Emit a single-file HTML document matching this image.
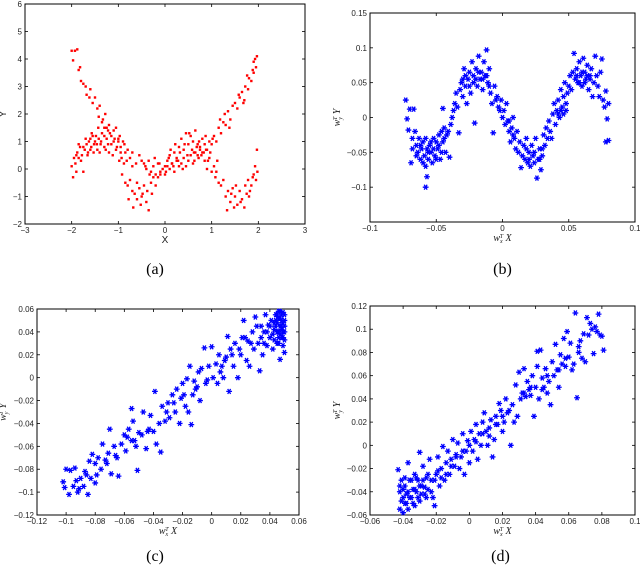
<!DOCTYPE html>
<html><head><meta charset="utf-8"><style>
html,body{margin:0;padding:0;background:#fff;}
svg{display:block;font-family:"Liberation Sans",sans-serif;}
</style></head><body>
<svg id="fig" width="640" height="570" viewBox="0 0 640 570"></svg>
<script>
const aX=[-2.0,-1.97,-1.93,-1.88,-1.85,-1.82,-1.8,-1.75,-1.7,-1.68,-1.62,-1.6,-1.55,-1.5,-1.45,-1.42,-1.4,-1.35,-1.3,-1.28,-1.22,-1.2,-1.15,-1.1,-1.05,-1.0,-0.95,-0.9,-0.85,-0.8,-0.75,-0.7,-0.62,-0.55,-0.5,-0.45,-0.4,-0.35,-0.3,-0.25,-0.2,-0.15,-0.1,-0.05,0.0,0.05,0.1,0.15,0.2,0.25,0.3,0.35,0.4,0.45,0.5,0.55,0.6,0.65,0.7,0.75,0.8,0.85,0.9,0.95,1.0,1.05,1.1,1.15,1.2,1.25,1.3,1.35,1.4,1.45,1.5,1.55,1.6,1.65,1.7,1.72,1.78,1.8,1.85,1.88,1.9,1.93,1.95,1.97,
-2.0,-1.97,-1.95,-1.92,-1.9,-1.88,-1.85,-1.82,-1.78,-1.75,-1.72,-1.68,-1.65,-1.6,-1.58,-1.55,-1.52,-1.5,-1.45,-1.42,-1.38,-1.35,-1.3,-1.25,-1.2,-1.15,-1.1,-1.05,-1.0,-0.98,-0.95,-0.92,-0.88,-0.85,-0.8,-0.78,-0.75,-0.7,-0.68,-0.65,-0.6,-0.55,-0.52,-0.48,-0.45,-0.4,-0.38,-0.35,-0.3,-0.28,-0.25,-0.2,-0.15,-0.1,0.0,0.05,0.1,0.15,0.2,0.25,0.3,0.35,0.4,0.45,0.5,0.55,0.6,0.62,0.65,0.7,0.72,0.75,0.8,0.85,0.88,0.9,0.95,1.0,1.05,1.08,1.1,1.15,1.2,1.25,1.3,1.33,1.35,1.4,1.45,1.48,1.5,1.55,1.6,1.65,1.7,1.72,1.75,1.78,1.8,1.85,1.88,1.9,1.93,1.95,1.97,1.98,
-1.9,-1.85,-1.8,-1.75,-1.7,-1.66,-1.63,-1.6,-1.57,-1.53,-1.48,-1.46,-1.43,-1.4,-1.37,-1.33,-1.3,-1.27,-1.25,-1.22,-1.18,-1.12,-1.08,-1.03,-0.97,-0.93,-0.87,-0.82,-0.7,-0.6,-0.5,-0.42,-0.33,-0.22,-0.12,0.02,0.08,0.12,0.18,0.22,0.28,0.32,0.38,0.42,0.48,0.52,0.58,0.63,0.68,0.73,0.78,0.83,0.87,0.92,0.97,1.02,1.12,1.18,1.28,1.38,1.42,1.52,1.58,1.62,1.68,1.76,1.82,1.9];
const aY=[4.3,3.95,4.3,4.35,3.6,3.7,3.2,3.1,3.0,2.7,2.6,2.9,2.4,2.6,2.2,1.9,2.3,1.7,1.5,2.0,1.4,1.6,1.2,1.0,1.5,1.1,0.8,1.0,0.6,0.7,0.4,0.6,0.2,0.5,0.3,0.2,0.0,0.3,-0.1,0.1,-0.2,0.2,-0.1,0.0,-0.2,0.1,0.0,0.2,-0.1,0.3,0.1,0.2,0.4,0.1,0.3,0.5,0.2,0.6,0.5,0.8,0.6,0.9,0.7,1.0,0.9,1.2,1.0,1.5,1.3,1.7,1.6,2.1,1.8,2.3,2.4,2.2,2.6,2.8,2.5,3.0,2.9,3.3,3.2,3.6,3.9,4.0,3.7,4.1,
0.1,-0.3,0.4,0.2,-0.1,0.6,0.4,0.8,0.5,-0.1,0.7,0.9,0.6,1.1,0.8,1.2,0.9,1.0,0.7,1.1,0.9,1.3,0.8,1.1,0.6,0.9,1.4,0.7,1.0,0.3,0.6,-0.2,0.2,-0.5,-0.6,-1.1,-0.4,-0.8,-1.4,-0.9,-1.1,-0.7,-1.3,-0.9,-0.6,-1.2,-0.8,-1.5,-0.5,-0.9,-0.3,-0.6,-0.3,-0.2,0.1,0.3,0.5,0.2,0.6,0.4,0.8,1.1,0.7,1.3,0.9,1.2,1.0,0.6,1.4,0.9,0.4,0.7,1.1,0.3,0.7,0.0,0.4,-0.1,0.1,-0.3,-0.1,-0.5,-0.6,-0.4,-1.0,-1.5,-0.8,-1.2,-0.7,-1.4,-1.0,-1.3,-0.8,-1.1,-1.4,-0.6,-0.9,-0.4,-1.0,-0.6,-0.3,-0.2,0.1,-0.4,0.7,-0.1,
0.5,0.9,0.3,0.8,1.1,0.5,1.0,0.7,1.3,0.6,1.2,0.9,1.5,0.6,1.0,1.8,1.2,0.7,1.5,0.9,1.3,0.5,1.1,0.8,1.2,0.4,0.9,0.3,0.1,-0.5,-1.0,0.1,-0.2,0.4,0.2,-0.1,0.4,0.7,0.1,0.9,0.3,0.6,0.0,0.9,0.5,1.3,0.7,0.3,0.8,1.0,0.5,0.6,1.2,0.3,0.6,1.1,0.3,1.8,2.0,1.5,-0.9,-0.6,2.7,-1.2,2.4,3.4,-0.8,3.5];

const bX=[-0.073,-0.072,-0.071,-0.07,-0.069,-0.068,-0.067,-0.066,-0.065,-0.064,-0.063,-0.062,-0.061,-0.06,-0.059,-0.058,-0.058,-0.057,-0.057,-0.056,-0.055,-0.054,-0.053,-0.052,-0.051,-0.05,-0.049,-0.048,-0.047,-0.046,-0.045,-0.045,-0.044,-0.043,-0.042,-0.041,-0.04,-0.039,-0.038,-0.037,-0.036,-0.035,-0.034,-0.033,-0.032,-0.031,-0.03,-0.029,-0.028,-0.027,-0.026,-0.025,-0.024,-0.023,-0.022,-0.021,-0.02,-0.019,-0.018,-0.017,-0.016,-0.015,-0.014,-0.013,-0.012,-0.011,-0.01,-0.009,-0.008,-0.007,-0.006,-0.005,-0.004,-0.003,-0.002,-0.001,0.0,0.001,0.002,0.003,0.004,0.005,0.006,0.007,0.008,0.009,0.01,0.011,0.012,0.013,0.014,0.015,0.016,0.017,0.018,0.019,0.02,0.021,0.022,0.023,0.024,0.025,0.026,0.027,0.028,0.029,0.03,0.031,0.032,0.033,0.034,0.035,0.036,0.037,0.038,0.039,0.04,0.041,0.042,0.043,0.044,0.045,0.046,0.047,0.048,0.049,0.05,0.051,0.052,0.053,0.054,0.055,0.056,0.057,0.058,0.059,0.06,0.061,0.062,0.063,0.064,0.065,0.066,0.067,0.068,0.069,0.07,0.071,0.072,0.073,0.074,0.075,0.076,0.077,0.078,0.079,0.08,0.078,0.08,
-0.068,-0.065,-0.062,-0.06,-0.058,-0.056,-0.054,-0.052,-0.05,-0.048,-0.046,-0.044,-0.03,-0.028,-0.025,-0.022,-0.02,-0.018,-0.015,-0.012,-0.01,0.005,0.008,0.018,0.02,0.024,0.028,0.03,0.042,0.044,0.046,0.048,0.056,0.058,0.06,0.062,0.064,0.066];
const bY=[0.025,-0.002,-0.018,0.012,-0.065,-0.03,0.012,-0.02,-0.04,-0.05,-0.03,-0.06,-0.045,-0.035,-0.055,-0.07,-0.1,-0.085,-0.045,-0.06,-0.04,-0.05,-0.065,-0.03,-0.055,-0.035,-0.045,-0.025,-0.06,-0.02,0.013,-0.035,-0.015,-0.05,-0.025,-0.02,-0.057,-0.01,0.0,0.01,0.02,0.035,0.015,-0.022,0.04,0.05,0.03,0.07,0.045,0.02,0.055,0.065,0.035,0.08,0.06,-0.008,0.07,0.045,0.088,0.055,0.065,0.04,0.08,0.06,0.097,0.05,0.07,0.035,0.02,-0.022,0.045,0.025,0.03,0.015,0.01,0.025,0.0,0.01,-0.01,0.02,-0.005,-0.02,-0.035,-0.015,0.0,-0.03,-0.045,-0.02,-0.05,-0.035,-0.072,-0.055,-0.04,-0.06,-0.03,-0.065,-0.05,-0.07,-0.04,-0.055,-0.065,-0.03,-0.087,-0.06,-0.045,-0.075,-0.055,-0.025,-0.04,-0.015,-0.03,-0.005,-0.02,-0.03,0.005,0.02,-0.01,0.01,0.025,0.0,0.04,0.015,0.03,0.05,0.01,0.035,0.045,0.06,0.04,0.065,0.092,0.055,0.07,0.05,0.08,0.06,0.045,0.085,0.065,0.055,0.075,0.04,0.06,0.07,0.03,0.05,0.088,0.06,0.045,0.03,0.065,0.084,0.025,0.015,0.038,-0.002,0.02,-0.035,-0.033,
-0.045,-0.055,-0.04,-0.065,-0.03,-0.05,-0.035,-0.045,-0.06,-0.04,-0.05,-0.03,0.055,0.06,0.045,0.05,0.055,0.065,0.055,0.06,0.045,-0.005,-0.025,-0.045,-0.06,-0.05,-0.06,-0.045,0.005,0.01,0.005,0.02,0.06,0.05,0.065,0.05,0.06,0.055];

const cX=[-0.102,-0.101,-0.1,-0.098,-0.097,-0.095,-0.094,-0.093,-0.092,-0.09,-0.088,-0.087,-0.085,-0.084,-0.083,-0.082,-0.08,-0.08,-0.078,-0.076,-0.075,-0.073,-0.071,-0.07,-0.069,-0.067,-0.065,-0.064,-0.062,-0.06,-0.059,-0.057,-0.055,-0.055,-0.054,-0.052,-0.051,-0.05,-0.048,-0.047,-0.045,-0.043,-0.042,-0.04,-0.039,-0.038,-0.036,-0.035,-0.034,-0.032,-0.03,-0.029,-0.027,-0.025,-0.024,-0.022,-0.021,-0.02,-0.018,-0.017,-0.016,-0.015,-0.014,-0.013,-0.012,-0.01,-0.009,-0.008,-0.007,-0.005,-0.004,-0.002,0.0,0.001,0.003,0.004,0.005,0.007,0.008,0.01,0.011,0.012,0.013,0.015,0.016,0.018,0.02,0.021,0.022,0.024,0.025,0.026,0.028,0.029,0.03,0.032,0.033,0.034,0.035,0.036,0.037,0.038,0.039,0.04,0.041,0.042,0.043,0.044,0.045,0.045,0.046,0.046,0.047,0.047,0.048,0.048,0.049,0.049,0.05,0.05,0.05,0.05,0.049,0.048,0.047,0.046,0.044,0.043,
0.04,0.042,0.044,0.045,0.046,0.047,0.048,0.049,0.05,0.05,0.049,0.048,0.047,0.046,0.045,0.043,0.038,0.036,0.034,0.031,0.027,0.023,0.019,0.014,0.009,0.006,-0.003,-0.011,-0.019,-0.026,-0.031,-0.044,-0.053,-0.058,-0.066,-0.072,-0.079,-0.086,-0.091];
const cY=[-0.091,-0.096,-0.08,-0.102,-0.081,-0.095,-0.079,-0.09,-0.1,-0.088,-0.095,-0.082,-0.102,-0.073,-0.088,-0.067,-0.092,-0.075,-0.07,-0.08,-0.058,-0.072,-0.066,-0.045,-0.084,-0.06,-0.07,-0.086,-0.058,-0.05,-0.064,-0.045,-0.027,-0.055,-0.038,-0.06,-0.081,-0.048,-0.05,-0.03,-0.062,-0.045,-0.033,-0.047,-0.012,-0.058,-0.04,-0.065,-0.025,-0.038,-0.022,-0.035,-0.015,-0.03,-0.01,-0.04,-0.018,-0.005,-0.025,-0.001,-0.03,0.01,-0.041,-0.015,-0.003,-0.008,0.005,-0.02,0.008,0.026,-0.005,0.01,0.027,0.0,0.012,-0.005,0.02,0.01,0.0,0.018,0.036,-0.012,0.025,0.01,0.03,0.0,0.02,0.035,0.05,0.015,0.032,0.01,0.04,0.025,0.053,0.03,0.006,0.045,0.02,0.04,0.055,0.028,0.046,0.035,0.05,0.025,0.042,0.055,0.03,0.048,0.04,0.058,0.016,0.052,0.045,0.035,0.057,0.04,0.05,0.022,0.045,0.033,0.028,0.055,0.038,0.03,0.045,0.033,
0.045,0.038,0.05,0.04,0.052,0.045,0.05,0.048,0.055,0.04,0.035,0.042,0.058,0.035,0.055,0.048,0.04,0.03,0.035,0.045,0.03,0.035,0.025,0.02,0.015,0.005,-0.002,-0.01,-0.015,-0.022,-0.03,-0.047,-0.055,-0.052,-0.068,-0.075,-0.085,-0.085,-0.097];

const dX=[-0.043,-0.042,-0.042,-0.041,-0.04,-0.04,-0.039,-0.039,-0.038,-0.037,-0.037,-0.036,-0.035,-0.034,-0.033,-0.033,-0.032,-0.031,-0.03,-0.03,-0.029,-0.028,-0.027,-0.026,-0.025,-0.024,-0.023,-0.022,-0.021,-0.02,-0.019,-0.018,-0.017,-0.016,-0.015,-0.014,-0.013,-0.012,-0.011,-0.01,-0.009,-0.008,-0.007,-0.006,-0.005,-0.004,-0.003,-0.002,-0.001,0.0,0.001,0.002,0.003,0.004,0.005,0.006,0.007,0.008,0.009,0.01,0.011,0.012,0.013,0.014,0.015,0.016,0.017,0.018,0.019,0.02,0.021,0.022,0.023,0.025,0.026,0.027,0.028,0.029,0.03,0.031,0.032,0.033,0.034,0.035,0.036,0.037,0.038,0.039,0.04,0.041,0.041,0.042,0.043,0.044,0.045,0.046,0.047,0.048,0.049,0.05,0.051,0.052,0.053,0.054,0.055,0.056,0.057,0.058,0.059,0.06,0.061,0.062,0.063,0.064,0.065,0.066,0.067,0.068,0.069,0.07,0.071,0.072,0.073,0.074,0.075,0.076,0.077,0.078,0.079,0.08,0.081,
-0.042,-0.041,-0.04,-0.039,-0.038,-0.037,-0.036,-0.035,-0.034,-0.033,-0.032,-0.031,-0.03,-0.029,-0.028,-0.027,-0.026,-0.025,-0.023,-0.021,-0.019,-0.017,-0.014,-0.011,-0.008,-0.004,0.0,0.004,0.008,0.012,0.016,0.02,0.024,0.033,0.037,0.044,0.047,0.054,0.058,0.066];
const dY=[-0.021,-0.04,-0.055,-0.03,-0.045,-0.058,-0.035,-0.05,-0.042,-0.015,-0.055,-0.03,-0.045,-0.038,-0.025,-0.052,-0.04,-0.03,-0.048,-0.006,-0.035,-0.018,-0.042,-0.028,-0.038,-0.012,-0.03,-0.045,-0.052,-0.025,-0.01,-0.035,-0.02,-0.001,-0.03,-0.015,-0.005,-0.025,-0.012,0.005,-0.018,-0.008,0.002,-0.02,-0.01,0.01,-0.025,-0.005,0.004,-0.015,0.012,-0.005,0.005,0.018,-0.012,0.01,0.0,0.02,0.028,0.012,0.0,0.015,0.022,-0.01,0.005,0.025,0.018,0.036,0.03,0.012,0.02,0.04,0.028,0.0,0.035,0.02,0.052,0.025,0.063,0.04,0.045,0.066,0.042,0.055,0.048,0.043,0.06,0.025,0.05,0.068,0.081,0.04,0.082,0.058,0.05,0.066,0.045,0.055,0.035,0.072,0.06,0.087,0.065,0.05,0.078,0.07,0.092,0.068,0.098,0.076,0.088,0.065,0.07,0.114,0.041,0.085,0.09,0.075,0.096,0.072,0.11,0.095,0.105,0.1,0.079,0.102,0.098,0.113,0.095,0.094,0.082,
-0.035,-0.048,-0.038,-0.028,-0.05,-0.04,-0.045,-0.03,-0.05,-0.038,-0.028,-0.045,-0.035,-0.042,-0.03,-0.036,-0.045,-0.025,-0.04,-0.03,-0.022,-0.028,-0.025,-0.018,-0.01,-0.005,0.0,0.003,0.01,0.008,0.018,0.025,0.03,0.045,0.05,0.048,0.06,0.065,0.075,0.08];

const aXTicks=["-3","-2","-1","0","1","2","3"];
const aYTicks=["-2","-1","0","1","2","3","4","5","6"];
const bXTicks=["-0.1","-0.05","0","0.05","0.1"];
const bYTicks=["-0.1","-0.05","0","0.05","0.1","0.15"];
const cXTicks=["-0.12","-0.1","-0.08","-0.06","-0.04","-0.02","0","0.02","0.04","0.06"];
const cYTicks=["-0.12","-0.1","-0.08","-0.06","-0.04","-0.02","0","0.02","0.04","0.06"];
const dXTicks=["-0.06","-0.04","-0.02","0","0.02","0.04","0.06","0.08","0.1"];
const dYTicks=["-0.06","-0.04","-0.02","0","0.02","0.04","0.06","0.08","0.1","0.12"];

const NS="http://www.w3.org/2000/svg";
const svg=document.getElementById('fig');
function mk(tag,attrs,parent){const e=document.createElementNS(NS,tag);for(const k in attrs)e.setAttribute(k,attrs[k]);(parent||svg).appendChild(e);return e;}
function lbl(s){return s.replace('-','\u2212');}

function panel(id,box,xd,yd,xt,yt,xs,ys,marker,cap,xlab,ylab){
  const g=mk('g',{});
  
  
  const [L,T,R,B]=box;
  const sx=v=>L+(v-xd[0])/(xd[1]-xd[0])*(R-L);
  const sy=v=>B-(v-yd[0])/(yd[1]-yd[0])*(B-T);
  mk('rect',{x:L,y:T,width:R-L,height:B-T,fill:'#fff',stroke:'#000','stroke-width':1},g);
  const tk=mk('g',{stroke:'#000','stroke-width':0.8},g);
  xt.forEach(t=>{const x=sx(parseFloat(t));
    mk('line',{x1:x,y1:B,x2:x,y2:B-3},tk);mk('line',{x1:x,y1:T,x2:x,y2:T+3},tk);
    const tx=mk('text',{x:x,y:B+9,'font-size':8,'text-anchor':'middle',fill:'#222'},g);tx.textContent=lbl(t);
    
    });
  yt.forEach(t=>{const y=sy(parseFloat(t));
    mk('line',{x1:L,y1:y,x2:L+3,y2:y},tk);mk('line',{x1:R,y1:y,x2:R-3,y2:y},tk);
    const tx=mk('text',{x:L-3,y:y+3,'font-size':8,'text-anchor':'end',fill:'#222'},g);tx.textContent=lbl(t);
    
    });
  const pts=mk('g',{},g);
  
  
  let d='';
  for(let i=0;i<xs.length;i++){
    const x=sx(xs[i]),y=sy(ys[i]);
    if(marker==='dot'){
      const c=mk('rect',{x:x-1.2,y:y-1.2,width:2.4,height:2.4,fill:'#f00'},pts);
      
      
    } else {
      const r=2.9,q=r*0.866;
      d+=`M${x-r} ${y}H${x+r}M${x-r/2} ${y-q}L${x+r/2} ${y+q}M${x-r/2} ${y+q}L${x+r/2} ${y-q}`;
    }
  }
  if(d){const p=mk('path',{d:d,stroke:'#0000ff','stroke-width':1.3,fill:'none'},pts);
    
    }
  const xl=mk('text',{x:(L+R)/2,y:B+19,'font-size':10,'text-anchor':'middle',fill:'#222','font-family':xlab[1]?'Liberation Serif, serif':'Liberation Sans, sans-serif','font-style':xlab[1]?'italic':'normal'},g);
  xl.innerHTML=xlab[0];
  
  
  const yx=ylab[2],yy=(T+B)/2;
  const yl=mk('text',{x:yx,y:yy,'font-size':10,'text-anchor':'middle',fill:'#222',transform:`rotate(-90 ${yx} ${yy})`,'font-family':ylab[1]?'Liberation Serif, serif':'Liberation Sans, sans-serif','font-style':ylab[1]?'italic':'normal'},g);
  yl.innerHTML=ylab[0];
  
  
  const ct=mk('text',{x:(L+R)/2+(cap[1]||0),y:cap[2],'font-size':16,'text-anchor':'middle',fill:'#000','font-family':'Liberation Serif, serif'},g);
  ct.textContent=cap[0];
  
  
}
const wx='w<tspan font-size="6" dy="2">x</tspan><tspan font-size="6" dy="-5" dx="-3">T</tspan><tspan dy="3"> X</tspan>';
const wy='w<tspan font-size="6" dy="2">y</tspan><tspan font-size="6" dy="-5" dx="-3">T</tspan><tspan dy="3"> Y</tspan>';
panel('panel-a',[25,4,305,224],[-3,3],[-2,6],aXTicks,aYTicks,aX,aY,'dot',['(a)',-10,274],['X',0],['Y',0,6]);
panel('panel-b',[370,13,635,222],[-0.1,0.1],[-0.15,0.15],bXTicks,bYTicks,bX,bY,'ast',['(b)',0,274],[wx,1],[wy,1,340]);
panel('panel-c',[37,309,299,515],[-0.12,0.06],[-0.12,0.06],cXTicks,cYTicks,cX,cY,'ast',['(c)',-13,561],[wx,1],[wy,1,6]);
panel('panel-d',[370,306,635,515],[-0.06,0.1],[-0.06,0.12],dXTicks,dYTicks,dX,dY,'ast',['(d)',-2,561],[wx,1],[wy,1,340]);
</script>
</body></html>
